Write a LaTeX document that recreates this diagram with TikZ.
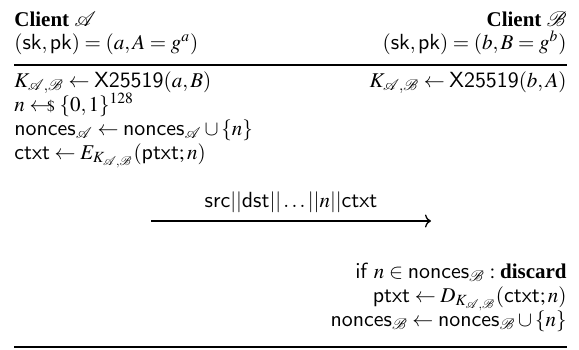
\documentclass[tikz,border=0pt]{standalone}
\usepackage{amsmath}
\usepackage{mathptmx}
\usepackage{fontspec}
\setmainfont{Liberation Serif}
\setsansfont{Liberation Sans}
\usetikzlibrary{arrows.meta, positioning}

\newcommand{\cA}{\mathcal{A}}
\newcommand{\cB}{\mathcal{B}}
\newcommand{\Kab}{K_{\cA,\cB}}
\newcommand{\sampled}{\mathrel{\leftarrow\mkern-7mu{\scriptstyle\$}}}
\newcommand{\sfw}[1]{\mathsf{#1}}

\tikzset{
  lcol/.style={anchor=base west, inner sep=0pt},
  rcol/.style={anchor=base east, inner sep=0pt},
  msgline/.style={line width=0.65pt, -{To[length=3pt,width=6.5pt]}},
}

\begin{document}
\begin{tikzpicture}[x=0.5pt, y=-0.5pt, font=\fontsize{10.5}{12.6}\selectfont]
  \useasboundingbox (0,0) rectangle (579,349);
  % header: the two clients and their key pairs
  \node[lcol] (cliA) at (14,26) {\textbf{Client} $\cA$};
  \node[rcol] (cliB) at (567,26) {\textbf{Client} $\cB$};
  \node[lcol] (keyA) at (14,49) {$(\sfw{sk},\sfw{pk}) = (a, A = g^{a})$};
  \node[rcol] (keyB) at (567,49) {$(\sfw{sk},\sfw{pk}) = (b, B = g^{b})$};
  \coordinate (topL) at (14,65);
  \coordinate (topR) at (567,65);
  \draw[line width=0.6pt] (topL) -- (topR);
  % sender side
  \node[lcol] (dhA) at (14,87) {$\Kab \leftarrow \sfw{X25519}(a, B)$};
  \node[rcol] (dhB) at (567,87) {$\Kab \leftarrow \sfw{X25519}(b, A)$};
  \node[lcol] (nce) at (14,111) {$n \sampled \{0,1\}^{128}$};
  \node[lcol] (addA) at (14,135) {$\sfw{nonces}_{\cA} \leftarrow \sfw{nonces}_{\cA} \cup \{n\}$};
  \node[lcol] (enc) at (14,159) {$\sfw{ctxt} \leftarrow E_{\Kab}(\sfw{ptxt}; n)$};
  % message A -> B
  \coordinate (sendL) at (151,221);
  \coordinate (sendR) at (431,221);
  \draw[msgline] (sendL) -- (sendR);
  \node[anchor=base, inner sep=0pt] (msg) at (291,207)
    {$\sfw{src}||\sfw{dst}||\ldots||n||\sfw{ctxt}$};
  % receiver side
  \node[rcol] (chk) at (567,278) {$\sfw{if}\ n \in \sfw{nonces}_{\cB} : \textbf{discard}$};
  \node[rcol] (dec) at (567,302) {$\sfw{ptxt} \leftarrow D_{\Kab}(\sfw{ctxt}; n)$};
  \node[rcol] (addB) at (567,326) {$\sfw{nonces}_{\cB} \leftarrow \sfw{nonces}_{\cB} \cup \{n\}$};
  \coordinate (botL) at (14,347);
  \coordinate (botR) at (567,347);
  \draw[line width=1pt] (botL) -- (botR);
\end{tikzpicture}
\end{document}
